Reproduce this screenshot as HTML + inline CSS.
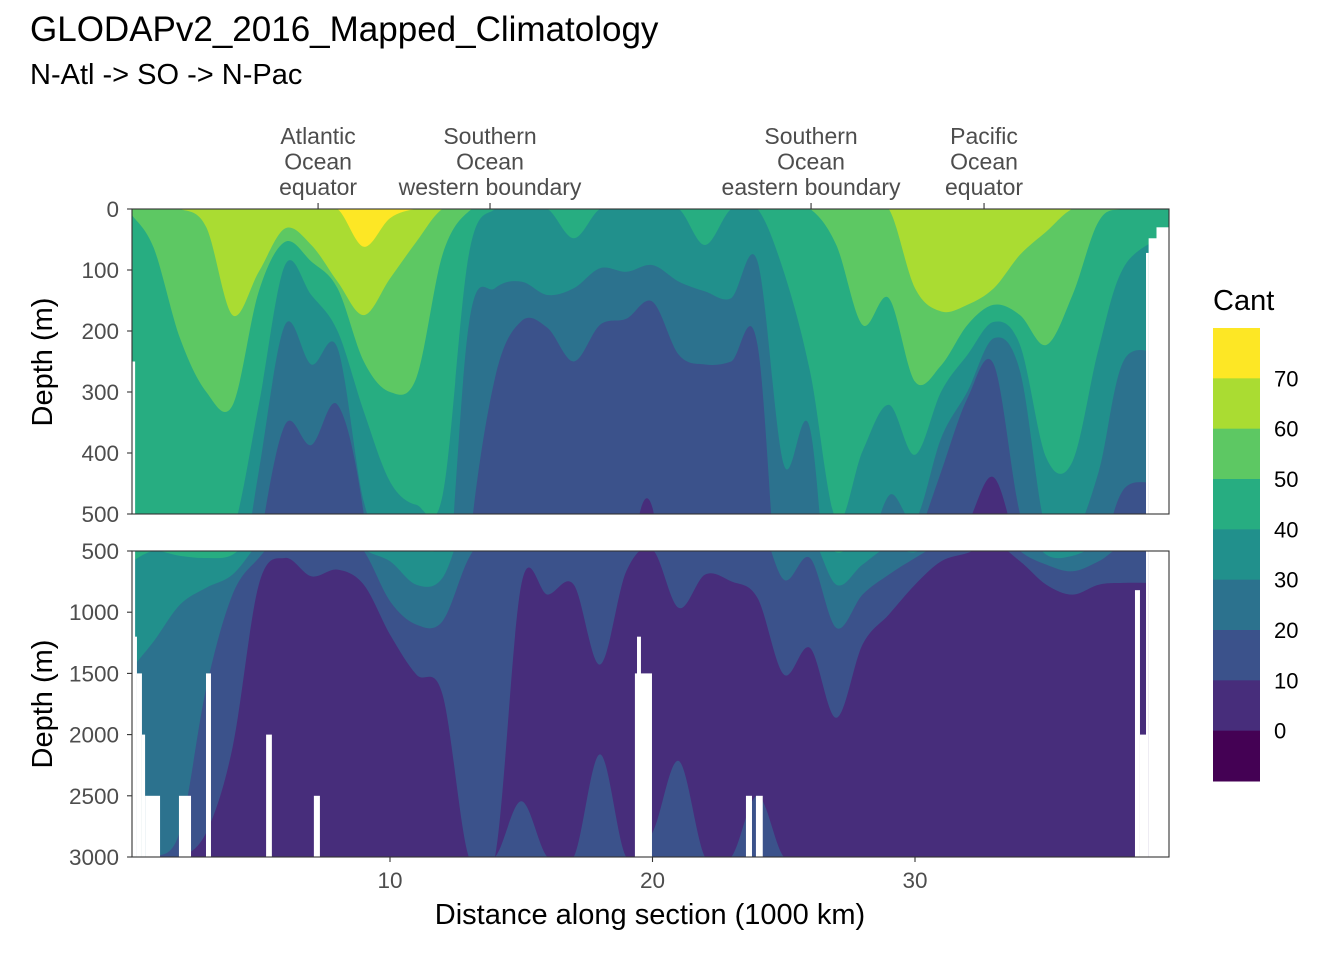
<!DOCTYPE html>
<html><head><meta charset="utf-8"><style>
html,body{margin:0;padding:0;background:#fff;width:1344px;height:960px;overflow:hidden;}
svg{display:block;font-family:"Liberation Sans",Arial,sans-serif;}
</style></head><body>
<svg id="chart" width="1344" height="960" viewBox="0 0 1344 960" xmlns="http://www.w3.org/2000/svg">
<text x="30" y="41" font-size="35" fill="#000">GLODAPv2_2016_Mapped_Climatology</text>
<text x="30" y="84" font-size="29" fill="#000">N-Atl -&gt; SO -&gt; N-Pac</text>
<defs>
<clipPath id="clipTop"><rect x="132" y="209" width="1037" height="305"/></clipPath>
<clipPath id="clipBot"><rect x="132" y="551" width="1037" height="306"/></clipPath>
</defs>
<g id="topPanel"></g>
<g id="botPanel"></g>
<g id="axes"></g>
<text x="650" y="924" font-size="29" text-anchor="middle" fill="#000">Distance along section (1000 km)</text>
<text transform="translate(52,362) rotate(-90)" font-size="29" text-anchor="middle" fill="#000">Depth (m)</text>
<text transform="translate(52,704) rotate(-90)" font-size="29" text-anchor="middle" fill="#000">Depth (m)</text>
<g id="legend"></g>
</svg>
<script>
// ---- data ----
const stations = [0.17,1,2,3,4,5,6,7,8,9,10,11,12,13,14,15,16,17,18,19,20,21,22,23,24,25,26,27,28,29,30,31,32,33,34,35,36,37,38,39.7];
const levels = [10,20,30,40,50,60,70];
const iso10 = [3000,3000,3000,2800,2107,775,557,707,652,775,1183,1509,1672,3000,3000,775,856,775,1428,666,490,965,693,748,884,1509,1292,1863,1265,1020,775,584,516,440,584,775,856,775,761,761];
const iso20 = [3000,3000,2790,1618,856,557,354,387,321,500,910,1101,1074,560,277,184,195,250,190,180,152,239,255,250,223,734,557,1128,856,693,557,430,310,255,500,611,666,584,457,457];
const iso30 = [1455,1237,938,800,693,430,190,255,228,480,584,775,720,190,130,119,141,130,97,103,92,119,135,146,86,419,360,775,611,470,510,375,299,212,266,530,540,430,245,245];
const iso40 = [585,500,540,557,530,321,92,141,200,332,447,485,470,75,0,0,0,48,0,0,0,0,59,0,0,103,266,510,397,321,403,299,239,185,223,408,414,228,92,40];
const iso50 = [10,64,212,300,322,135,54,86,130,250,300,277,75,4,0,0,0,0,0,0,0,0,0,0,0,0,0,59,190,146,283,256,190,157,174,223,141,20,0,0];
const iso60 = [0,0,0,30,174,103,32,59,119,174,114,54,0,0,0,0,0,0,0,0,0,0,0,0,0,0,0,0,0,0,130,168,157,130,75,37,0,0,0,0];
const iso70 = [0,0,0,0,0,0,0,0,0,62,15,0,0,0,0,0,0,0,0,0,0,0,0,0,0,0,0,0,0,0,0,0,0,0,0,0,0,0,0,0];
const deepRise10 = [3000,3000,3000,3000,3000,3000,3000,3000,3000,3000,3000,3000,3000,3000,3000,2545,3000,3000,2162,3000,2800,2216,3000,3000,2500,3000,3000,3000,3000,3000,3000,3000,3000,3000,3000,3000,3000,3000,3000,3000];
// missing-data columns: [x start, x end, depth start]
const gapX0 = [0.17,0.36,0.55,0.67,1.96,2.99,5.28,7.10,19.33,19.41,23.56,23.94,38.38,38.57,38.8,38.9,39.2,0.17];
const gapX1 = [0.36,0.55,0.67,1.24,2.42,3.18,5.50,7.33,19.98,19.56,23.79,24.20,38.57,38.80,38.9,39.2,39.7,0.29];
const gapD  = [1200,1500,2000,2500,2500,1500,2000,2500,1500,1200,2500,2500,820,2000,72,48,30,250];
const xTicks = [10,20,30];
const topDepthTicks = [0,100,200,300,400,500];
const botDepthTicks = [500,1000,1500,2000,2500,3000];
const secLabels = [["Atlantic","Ocean","equator"],["Southern","Ocean","western boundary"],["Southern","Ocean","eastern boundary"],["Pacific","Ocean","equator"]];
const secPos = [7.26,13.81,26.04,32.63];
const legendBreaks = [70,60,50,40,30,20,10,0];

// ---- scales ----
const X = v => 127.5 + v*26.25;
const Ytop = d => 209 + d*0.61;
const Ybot = d => 551 + (d-500)*0.1224;
const colors = {base:"#472D7B",10:"#3B528B",20:"#2C728E",30:"#21908C",40:"#27AD81",50:"#5DC863",60:"#AADC32",70:"#FDE725"};
const isoByLevel = {10:iso10,20:iso20,30:iso30,40:iso40,50:iso50,60:iso60,70:iso70};
const NS = "http://www.w3.org/2000/svg";
function mk(tag, attrs, parent){const e=document.createElementNS(NS,tag);for(const k in attrs)e.setAttribute(k,attrs[k]);parent.appendChild(e);return e;}
function smooth(pts){
  let d = "M"+pts[0][0].toFixed(1)+","+pts[0][1].toFixed(1);
  for(let i=0;i<pts.length-1;i++){
    const p0=pts[Math.max(i-1,0)],p1=pts[i],p2=pts[i+1],p3=pts[Math.min(i+2,pts.length-1)];
    const c1=[p1[0]+(p2[0]-p0[0])/6,p1[1]+(p2[1]-p0[1])/6];
    const c2=[p2[0]-(p3[0]-p1[0])/6,p2[1]-(p3[1]-p1[1])/6];
    d+="C"+c1[0].toFixed(1)+","+c1[1].toFixed(1)+" "+c2[0].toFixed(1)+","+c2[1].toFixed(1)+" "+p2[0].toFixed(1)+","+p2[1].toFixed(1);
  }
  return d;
}
function drawPanel(g, Y, clip, y0, y1, ticks, nm){
  const cg = mk("g",{"clip-path":"url(#"+clip+")"},g);
  for(let i=0;i<ticks.length;i++){
    const l=mk("line",{x1:132,x2:1169,y1:Y(ticks[i]),y2:Y(ticks[i]),stroke:"#ebebeb","stroke-width":1.1},cg);
    
    
    if(i<ticks.length-1){const m=(ticks[i]+ticks[i+1])/2;
      const l2=mk("line",{x1:132,x2:1169,y1:Y(m),y2:Y(m),stroke:"#f3f3f3","stroke-width":0.6},cg);
      
      }
  }
  const xa = X(stations[0]), xb = X(stations[stations.length-1]);
  const base = mk("rect",{x:xa,y:y0-5,width:xb-xa,height:y1-y0+10,fill:colors.base},cg);
  
  
  const pr = stations.map((s,i)=>[X(s),Y(deepRise10[i])]);
  const dr = mk("path",{d:smooth(pr)+"L"+xb+","+Y(3200)+"L"+xa+","+Y(3200)+"Z",fill:colors[10]},cg);
  
  
  levels.forEach(T=>{
    const arr = isoByLevel[T];
    const pts = stations.map((s,i)=>[X(s),Y(arr[i])]);
    const p = mk("path",{d:smooth(pts)+"L"+xb+","+Y(-200)+"L"+xa+","+Y(-200)+"Z",fill:colors[T]},cg);
    
    
  });
  for(let i=0;i<gapX0.length;i++){
    const r=mk("rect",{x:X(gapX0[i]),y:Y(gapD[i]),width:X(gapX1[i])-X(gapX0[i]),height:Math.max(0,y1-Y(gapD[i])+5),fill:"#fff"},cg);
    
    
  }
  const fr = mk("rect",{x:132,y:y0,width:1037,height:y1-y0,fill:"none",stroke:"#333","stroke-width":1.1},g);
  
  
  const ax = document.getElementById("axes");
  ticks.forEach(t=>{
    const tk=mk("line",{x1:127,x2:132,y1:Y(t),y2:Y(t),stroke:"#333","stroke-width":1.1},ax);
    
    
    const tx=mk("text",{x:119,y:Y(t)+8,"font-size":22.5,"text-anchor":"end",fill:"#4d4d4d"},ax);
    tx.textContent=t;
    
    
  });
}
drawPanel(document.getElementById("topPanel"),Ytop,"clipTop",209,514,topDepthTicks,"upper");
drawPanel(document.getElementById("botPanel"),Ybot,"clipBot",551,857,botDepthTicks,"lower");
const ax = document.getElementById("axes");
xTicks.forEach(t=>{
  const tk=mk("line",{x1:X(t),x2:X(t),y1:857,y2:862,stroke:"#333","stroke-width":1.1},ax);
  
  
  const tx=mk("text",{x:X(t),y:888,"font-size":22.5,"text-anchor":"middle",fill:"#4d4d4d"},ax);
  tx.textContent=t;
  
  
});
secPos.forEach((p,i)=>{
  const tk=mk("line",{x1:X(p),x2:X(p),y1:203,y2:209,stroke:"#333","stroke-width":1.1},ax);
  
  
  secLabels[i].forEach((s,j)=>{
    const tx=mk("text",{x:X(p),y:144+j*25.5,"font-size":23,"text-anchor":"middle",fill:"#4d4d4d"},ax);
    tx.textContent=s;
    
    
  });
});
const lg = document.getElementById("legend");
const lt = mk("text",{x:1213,y:310,"font-size":29,fill:"#000"},lg);
lt.textContent="Cant";


const bandKeys=[70,60,50,40,30,20,10,"base","neg"];
const bh=(781-328)/9;
bandKeys.forEach((k,i)=>{
  const r=mk("rect",{x:1213,y:328+i*bh,width:47,height:bh+0.5,fill:k==="neg"?"#440154":colors[k]},lg);
  
  
});
legendBreaks.forEach((b,i)=>{
  const tx=mk("text",{x:1274,y:328+(i+1)*bh+8,"font-size":22,fill:"#000"},lg);
  tx.textContent=b;
  
  
});
</script>
</body></html>
